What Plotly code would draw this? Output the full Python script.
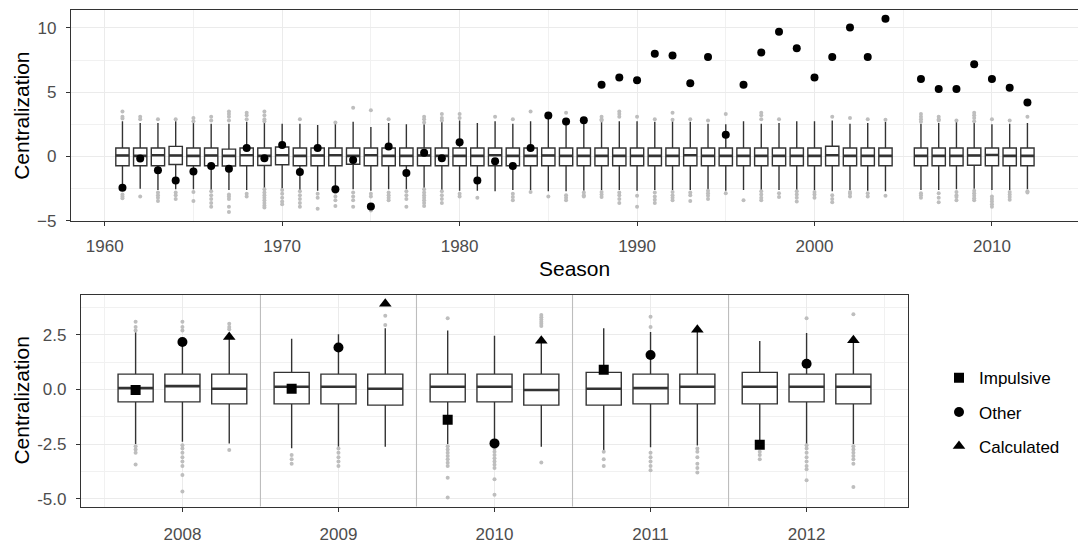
import plotly.graph_objects as go

# ---------------- top panel data ----------------
seasons = list(range(1961, 2005)) + list(range(2006, 2013))

observed = [-2.42, -0.15, -1.07, -1.86, -1.17, -0.74, -0.94, 0.66, -0.13, 0.89,
            -1.20, 0.66, -2.55, -0.26, -3.89, 0.79, -1.27, 0.30, -0.13, 1.11,
            -1.86, -0.36, -0.74, 0.66, 3.18, 2.72, 2.82, 5.57, 6.15, 5.92,
            7.98, 7.86, 5.69, 7.73, 1.70, 5.57, 8.09, 9.69, 8.42, 6.15,
            7.73, 10.02, 7.73, 10.71,
            6.03, 5.24, 5.24, 7.18, 6.03, 5.34, 4.20]

box_q1 = [-0.72, -0.72, -0.72, -0.62, -0.72, -0.72, -0.74, -0.72, -0.70, -0.64,
          -0.72, -0.72, -0.72, -0.60, -0.72, -0.72, -0.72, -0.72, -0.72, -0.72,
          -0.72, -0.72, -0.72, -0.72, -0.72, -0.72, -0.72, -0.72, -0.72, -0.72,
          -0.72, -0.72, -0.72, -0.72, -0.72, -0.72, -0.72, -0.72, -0.72, -0.72,
          -0.72, -0.72, -0.72, -0.72,
          -0.72, -0.72, -0.72, -0.68, -0.72, -0.72, -0.72]
box_med = [0.08, 0.05, 0.10, 0.08, 0.05, 0.08, 0.05, 0.10, 0.05, 0.10,
           0.05, 0.08, 0.10, 0.05, 0.10, 0.05, 0.05, 0.08, 0.05, 0.05,
           0.05, 0.10, 0.05, 0.05, 0.08, 0.05, 0.05, 0.05, 0.05, 0.05,
           0.05, 0.05, 0.10, 0.05, 0.05, 0.05, 0.05, 0.05, 0.05, 0.05,
           0.10, 0.05, 0.05, 0.05,
           0.05, 0.05, 0.05, 0.08, 0.12, 0.05, 0.05]
box_q3 = [0.66, 0.66, 0.66, 0.79, 0.66, 0.66, 0.58, 0.66, 0.66, 0.74,
          0.66, 0.66, 0.66, 0.66, 0.66, 0.66, 0.66, 0.66, 0.66, 0.66,
          0.66, 0.66, 0.66, 0.66, 0.66, 0.66, 0.66, 0.66, 0.66, 0.66,
          0.66, 0.66, 0.66, 0.66, 0.66, 0.66, 0.66, 0.66, 0.66, 0.66,
          0.80, 0.66, 0.66, 0.66,
          0.66, 0.66, 0.66, 0.66, 0.66, 0.66, 0.66]
whisk_lo = [-2.55, -2.50, -2.60, -2.55, -2.55, -2.60, -2.60, -2.60, -2.50, -2.55,
            -2.60, -2.65, -2.60, -2.55, -2.65, -2.55, -2.55, -2.50, -2.60, -2.65,
            -2.65, -2.70, -2.60, -2.60, -2.70, -2.70, -2.65, -2.60, -2.60, -2.65,
            -2.60, -2.60, -2.60, -2.55, -2.65, -2.60, -2.60, -2.60, -2.60, -2.60,
            -2.70, -2.60, -2.65, -2.70,
            -2.60, -2.60, -2.55, -2.50, -2.60, -2.60, -2.55]
whisk_hi = [2.75, 2.60, 2.60, 2.75, 2.60, 2.55, 2.55, 2.70, 2.70, 2.55,
            2.55, 2.45, 2.55, 2.70, 2.30, 2.60, 2.50, 2.50, 2.70, 2.80,
            2.60, 2.75, 2.55, 2.75, 3.00, 2.60, 2.70, 2.75, 2.75, 2.75,
            2.70, 2.75, 2.70, 2.55, 2.50, 2.75, 2.55, 2.60, 2.75, 2.75,
            2.80, 2.55, 2.60, 2.70,
            2.55, 2.60, 2.70, 2.60, 2.50, 2.55, 2.60]
out_hi = [[3.5, 3.1, 2.95], [3.1, 2.9], [2.9], [2.9], [3.0, 2.75], [3.1, 2.8],
          [3.5, 3.3, 3.1, 2.8], [3.4, 3.2, 2.9], [3.5, 3.2, 2.9, 2.75], [], [2.9], [],
          [2.65], [3.8], [3.6], [2.9], [], [3.1, 2.9, 2.65], [3.3, 3.0, 2.8], [3.3, 3.0],
          [], [3.1], [2.9], [3.5], [], [3.4], [], [3.1, 2.9, 2.8], [3.5, 3.3, 3.1], [3.1],
          [2.9], [3.4, 2.85], [2.9], [2.8], [3.3], [], [3.4, 3.2, 2.9], [2.9], [], [],
          [3.1], [3.0], [2.9], [2.85],
          [3.3, 3.1, 2.9, 2.7], [3.1, 2.9, 2.8], [2.8], [3.4, 3.2, 3.0, 2.75], [2.9], [2.8], [3.1]]
out_lo = [[-2.95, -3.1, -3.25], [-3.1], [-2.8, -3.0, -3.2, -3.45], [-2.8, -3.0, -3.3],
          [-2.75, -3.45], [-2.7, -3.0, -3.3, -3.6, -3.9], [-2.95, -3.1, -3.3, -3.9, -4.3],
          [-2.9, -3.1], [-2.55, -2.8, -3.0, -3.2, -3.4, -3.6, -3.8, -3.95],
          [-2.6, -2.9, -3.2, -3.5, -3.7], [-2.7, -3.0, -3.3, -3.6, -3.9], [-2.9, -3.2, -4.05],
          [-2.8, -3.1, -3.4, -3.85], [-2.8, -3.1, -3.4, -3.9], [-2.9, -3.1, -4.2],
          [-2.8, -3.0, -3.2, -3.4], [-2.7, -3.0, -3.3, -3.9],
          [-2.55, -2.8, -3.0, -3.2, -3.4, -3.6, -3.85], [-2.7, -3.0, -3.3, -3.6], [-2.9, -3.1],
          [-3.2], [], [-2.9, -3.15, -3.4], [-2.75], [-3.1], [-3.0, -3.2, -3.4],
          [-2.8, -3.0, -3.1], [-2.75, -2.95, -3.15], [-2.8, -3.0, -3.3, -3.6], [-3.05, -3.9],
          [-2.8, -3.1, -3.35, -3.6], [-2.75, -3.0, -3.2, -3.4], [-2.8, -3.0, -3.45],
          [-2.65, -2.85, -3.05, -3.3], [-2.85], [-3.4], [-2.7, -2.95, -3.2, -3.4],
          [-2.85, -3.15], [-2.7, -2.95, -3.2, -3.5], [-2.75, -2.95, -3.2],
          [-3.0, -3.3, -3.55], [-2.75, -2.9, -3.1], [-2.85, -3.1], [-3.05],
          [-2.85, -3.0, -3.2], [-2.85, -3.2, -3.55], [-2.75, -3.0, -3.15, -3.4],
          [-2.65, -2.85, -3.05, -3.25, -3.4], [-3.1, -3.3, -3.5, -3.7, -3.9],
          [-2.75, -2.95, -3.15, -3.35], [-2.7, -2.8]]

# ---------------- bottom panel data ----------------
years = [2008, 2009, 2010, 2011, 2012]
types = ["Impulsive", "Other", "Calculated"]
type_symbols = ["square", "circle", "triangle-up"]

sub_q1 = [[-0.57, -0.66, -0.57, -0.72, -0.66],
          [-0.57, -0.66, -0.57, -0.66, -0.57],
          [-0.66, -0.72, -0.72, -0.66, -0.66]]
sub_med = [[0.06, 0.12, 0.12, 0.03, 0.12],
           [0.15, 0.12, 0.12, 0.06, 0.12],
           [0.03, 0.03, -0.03, 0.12, 0.12]]
sub_q3 = [[0.70, 0.78, 0.70, 0.78, 0.78],
          [0.70, 0.70, 0.70, 0.70, 0.70],
          [0.70, 0.70, 0.70, 0.70, 0.70]]
sub_lo = [[-2.50, -2.69, -2.50, -2.84, -2.55],
          [-2.39, -2.62, -2.45, -2.65, -2.50],
          [-2.47, -2.62, -2.62, -2.57, -2.50]]
sub_hi = [[2.62, 2.32, 2.69, 2.80, 2.21],
          [2.30, 2.52, 2.46, 2.63, 2.58],
          [2.50, 2.80, 2.35, 2.70, 2.30]]
sub_points = [[-0.03, 0.03, -1.39, 0.90, -2.53],
              [2.17, 1.92, -2.47, 1.57, 1.17],
              [2.40, 3.92, 2.23, 2.73, 2.25]]
sub_out_hi = [[[3.1, 2.85, 2.7], [], [3.26], [], []],
              [[3.1, 2.85, 2.7], [], [], [3.32, 2.85], [3.25]],
              [[3.0, 2.85, 2.75], [2.95, 3.37], [3.4, 3.3, 3.2, 3.1, 3.0, 2.9], [], [3.44]]]
sub_out_lo = [[[-2.6, -2.75, -2.9, -3.44], [-3.0, -3.2, -3.4],
               [-2.6, -2.75, -2.9, -3.05, -3.2, -3.35, -3.5, -4.04, -4.94],
               [-2.85, -3.2, -3.5], [-2.85, -3.0, -3.2]],
              [[-2.55, -2.7, -2.9, -3.1, -3.3, -3.5, -3.92, -4.67],
               [-2.7, -2.9, -3.1, -3.3, -3.5],
               [-2.55, -2.7, -2.85, -3.0, -3.15, -3.3, -3.45, -3.6, -4.11, -4.82],
               [-2.9, -3.1, -3.3, -3.5, -3.7],
               [-2.55, -2.7, -2.9, -3.1, -3.3, -3.5, -3.65, -4.16]],
              [[-2.77], [], [-3.34],
               [-2.7, -2.85, -3.1, -3.4, -3.6, -3.8],
               [-2.6, -2.75, -2.9, -3.05, -3.2, -3.4, -4.46]]]

# ---------------- styling ----------------
FONT = "Liberation Sans, Arial, sans-serif"
BOX_LINE = "#333333"
OUT_COL = "#BEBEBE"
GRID = "#EBEBEB"
BORDER = "#333333"
TICKCOL = "#4D4D4D"
TOP_W = 0.75
DODGE = 0.3
SUB_W = 0.225

fig = go.Figure()


def median_segments(xs, meds, w):
    sx, sy = [], []
    for x, m in zip(xs, meds):
        sx += [x - w / 2, x + w / 2, None]
        sy += [m, m, None]
    return sx, sy


def outlier_points(xs, his, los):
    ox, oy = [], []
    for x, h, l in zip(xs, his, los):
        for v in h + l:
            ox.append(x)
            oy.append(v)
    return ox, oy


# top boxes
fig.add_trace(go.Box(x=seasons, q1=box_q1, median=box_med, q3=box_q3,
                     lowerfence=whisk_lo, upperfence=whisk_hi,
                     width=TOP_W, whiskerwidth=0, boxpoints=False,
                     fillcolor="white", line=dict(color=BOX_LINE, width=1.4),
                     xaxis="x", yaxis="y", showlegend=False, hoverinfo="skip"))
ox, oy = outlier_points(seasons, out_hi, out_lo)
fig.add_trace(go.Scatter(x=ox, y=oy, mode="markers", xaxis="x", yaxis="y",
                         marker=dict(color=OUT_COL, size=4, symbol="circle"),
                         showlegend=False, hoverinfo="skip"))
mx, my = median_segments(seasons, box_med, TOP_W)
fig.add_trace(go.Scatter(x=mx, y=my, mode="lines", xaxis="x", yaxis="y",
                         line=dict(color=BOX_LINE, width=2.6),
                         showlegend=False, hoverinfo="skip"))
fig.add_trace(go.Scatter(x=seasons, y=observed, mode="markers", xaxis="x", yaxis="y",
                         marker=dict(color="black", size=8, symbol="circle"),
                         showlegend=False))

# bottom separators (between seasons)
sep_x, sep_y = [], []
for a, b in zip(years[:-1], years[1:]):
    m = (a + b) / 2
    sep_x += [m, m, None]
    sep_y += [-10, 10, None]
fig.add_trace(go.Scatter(x=sep_x, y=sep_y, mode="lines", xaxis="x2", yaxis="y2",
                         line=dict(color="#BDBDBD", width=1.1),
                         showlegend=False, hoverinfo="skip"))

offsets = [-DODGE, 0.0, DODGE]
for i, t in enumerate(types):
    xs = [y + offsets[i] for y in years]
    fig.add_trace(go.Box(x=xs, q1=sub_q1[i], median=sub_med[i], q3=sub_q3[i],
                         lowerfence=sub_lo[i], upperfence=sub_hi[i],
                         width=SUB_W, whiskerwidth=0, boxpoints=False,
                         fillcolor="white", line=dict(color=BOX_LINE, width=1.4),
                         xaxis="x2", yaxis="y2", showlegend=False, hoverinfo="skip"))
    ox, oy = outlier_points(xs, sub_out_hi[i], sub_out_lo[i])
    fig.add_trace(go.Scatter(x=ox, y=oy, mode="markers", xaxis="x2", yaxis="y2",
                             marker=dict(color=OUT_COL, size=4, symbol="circle"),
                             showlegend=False, hoverinfo="skip"))
    mx, my = median_segments(xs, sub_med[i], SUB_W)
    fig.add_trace(go.Scatter(x=mx, y=my, mode="lines", xaxis="x2", yaxis="y2",
                             line=dict(color=BOX_LINE, width=2.6),
                             showlegend=False, hoverinfo="skip"))

for i, t in enumerate(types):
    xs = [y + offsets[i] for y in years]
    fig.add_trace(go.Scatter(x=xs, y=sub_points[i], mode="markers", name=t,
                             xaxis="x2", yaxis="y2", legendgroup=t,
                             marker=dict(color="black", size=10 if i != 2 else 11,
                                         symbol=type_symbols[i])))

W, H = 1078, 548
top_dom_x = [71 / W, 1.0]
top_dom_y = [1 - 225 / H, 1 - 10 / H]
bot_dom_x = [81 / W, 908 / W]
bot_dom_y = [1 - 516 / H, 1 - 300 / H]

axis_common = dict(showgrid=True, gridcolor=GRID, gridwidth=1.1, zeroline=False,
                   ticks="outside", ticklen=4, tickwidth=1.1, tickcolor=BORDER,
                   linecolor=BORDER, linewidth=1.2, showline=True,
                   tickfont=dict(family=FONT, size=17, color=TICKCOL))

fig.update_layout(
    width=W, height=H, margin=dict(l=0, r=0, t=0, b=0),
    paper_bgcolor="white", plot_bgcolor="white", boxmode="overlay",
    font=dict(family=FONT, color="black"),
    xaxis=dict(domain=top_dom_x, anchor="y", range=[1958.1, 2014.85],
               tickvals=[1960, 1970, 1980, 1990, 2000, 2010], mirror=True,
               ticklabelstandoff=6,
               minor=dict(tickvals=[1965, 1975, 1985, 1995, 2005], showgrid=True,
                          gridcolor="#F1F1F1", gridwidth=0.7, ticks=""),
               **axis_common),
    yaxis=dict(domain=top_dom_y, anchor="x", range=[-5.0, 11.4],
               tickvals=[-5, 0, 5, 10], mirror=False, ticklabelstandoff=6,
               minor=dict(tickvals=[-2.5, 2.5, 7.5], showgrid=True,
                          gridcolor="#F1F1F1", gridwidth=0.7, ticks=""),
               **axis_common),
    xaxis2=dict(domain=bot_dom_x, anchor="y2", range=[2007.35, 2012.65],
                tickvals=years, ticktext=[str(y) for y in years], mirror=True,
                ticklabelstandoff=8,
                minor=dict(tickvals=[2007.5, 2012.5], showgrid=True,
                           gridcolor="#F1F1F1", gridwidth=0.7, ticks=""),
                **axis_common),
    yaxis2=dict(domain=bot_dom_y, anchor="x2", range=[-5.36, 4.34],
                tickvals=[-5.0, -2.5, 0.0, 2.5], ticktext=["-5.0", "-2.5", "0.0", "2.5"],
                mirror=True, ticklabelstandoff=6,
                minor=dict(tickvals=[-3.75, -1.25, 1.25, 3.75], showgrid=True,
                           gridcolor="#F1F1F1", gridwidth=0.7, ticks=""),
                **axis_common),
    legend=dict(x=939 / W, y=1 - 367 / H, xanchor="left", yanchor="top",
                font=dict(family=FONT, size=17, color="black"),
                tracegroupgap=9, bgcolor="rgba(0,0,0,0)"),
    annotations=[
        dict(text="Centralization", x=22 / W, y=1 - 118 / H, xref="paper", yref="paper",
             xanchor="center", yanchor="middle",
             textangle=-90, showarrow=False, font=dict(family=FONT, size=21, color="black")),
        dict(text="Season", x=574 / W, y=1 - 273 / H, xref="paper", yref="paper",
             xanchor="center", yanchor="middle",
             showarrow=False, font=dict(family=FONT, size=21, color="black")),
        dict(text="Centralization", x=22 / W, y=1 - 408 / H, xref="paper", yref="paper",
             xanchor="center", yanchor="middle",
             textangle=-90, showarrow=False, font=dict(family=FONT, size=21, color="black")),
    ],
)

fig.write_html("out.html")
